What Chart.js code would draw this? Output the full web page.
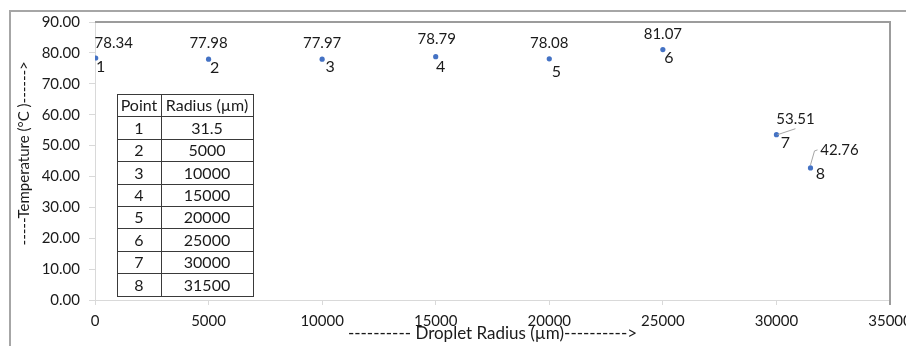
<!DOCTYPE html>
<html>
<head>
<meta charset="utf-8">
<script src="https://cdn.jsdelivr.net/npm/chart.js@4.4.0/dist/chart.umd.min.js"></script>
<style>
  html, body { margin: 0; padding: 0; background: #fff; }
</style>
</head>
<body>
<canvas id="chart" width="906" height="346"></canvas>
<script>
/* DATA */

const pointNumbers = ["1", "2", "3", "4", "5", "6", "7", "8"];
const radiusValues = [31.5, 5000, 10000, 15000, 20000, 25000, 30000, 31500];
const temperatureValues = [78.34, 77.98, 77.97, 78.79, 78.08, 81.07, 53.51, 42.76];

const X_MIN = 0, X_MAX = 35000, X_STEP = 5000;
const Y_MIN = 0, Y_MAX = 90, Y_STEP = 10;

const xTitle = "---------- Droplet Radius (µm)---------->";
const yTitle = "    -----Temperature (°C )------>";
const tableHeader = ["Point", "Radius (µm)"];

/* LABEL PLACEMENT (offsets from each dot, px) */

const valueOffsets = [[18, -15], [0, -16], [0, -16], [1, -17], [0, -16], [0, -15], [19, -16], [29, -18]];
const numberOffsets = [[5, 9], [6, 9], [8, 8], [5, 10], [7, 13], [6, 8], [9, 8], [10, 6]];
const leaderLines = { 6: [[1, 0], [19, -6]], 7: [[0, -3], [4, -17], [7, -18]] };

const FONT = "Lato, 'Open Sans', sans-serif";
const TEXT = "#1a1a1a";
const AXIS = "#d9d9d9";

/* PLUGINS */

const frame = {
  id: "frame",
  beforeDraw(chart) {
    const ctx = chart.ctx;
    ctx.save();
    ctx.fillStyle = "#fff";
    ctx.fillRect(0, 0, chart.width, chart.height);
    ctx.strokeStyle = "#a6a6a6";
    ctx.lineWidth = 2;
    ctx.beginPath();
    ctx.moveTo(10, chart.height);
    ctx.lineTo(10, 11);
    ctx.lineTo(chart.width, 11);
    ctx.stroke();
    ctx.restore();
  },
  afterDraw(chart) {
    const ctx = chart.ctx;
    const a = chart.chartArea;
    ctx.save();
    ctx.strokeStyle = "#9c9c9c";
    ctx.lineWidth = 2;
    ctx.beginPath();
    ctx.moveTo(a.left, a.top);
    ctx.lineTo(a.right, a.top);
    ctx.lineTo(a.right, a.bottom + 5);
    ctx.stroke();
    ctx.restore();
  }
};

const pointLabels = {
  id: "pointLabels",
  afterDatasetsDraw(chart) {
    const ctx = chart.ctx;
    const meta = chart.getDatasetMeta(0);
    ctx.save();
    ctx.font = "15px " + FONT;
    ctx.fillStyle = TEXT;
    ctx.textAlign = "center";
    ctx.textBaseline = "middle";
    meta.data.forEach((pt, i) => {
      const v = valueOffsets[i], n = numberOffsets[i];
      ctx.fillText(temperatureValues[i].toFixed(2), pt.x + v[0], pt.y + v[1]);
      ctx.font = "16px " + FONT;
      ctx.fillText(pointNumbers[i], pt.x + n[0], pt.y + n[1]);
      ctx.font = "15px " + FONT;
      const line = leaderLines[i];
      if (line) {
        ctx.strokeStyle = "#a6a6a6";
        ctx.lineWidth = 1;
        ctx.beginPath();
        line.forEach((p, k) => k ? ctx.lineTo(pt.x + p[0], pt.y + p[1]) : ctx.moveTo(pt.x + p[0], pt.y + p[1]));
        ctx.stroke();
      }
    });
    ctx.restore();
  }
};

const insetTable = {
  id: "insetTable",
  afterDraw(chart) {
    const ctx = chart.ctx;
    const left = 117, mid = 161, right = 253, top = 94, rowH = 22.4;
    const rows = pointNumbers.length + 1;
    ctx.save();
    ctx.strokeStyle = "#3a3a3a";
    ctx.lineWidth = 1;
    ctx.beginPath();
    for (let r = 0; r <= rows; r++) {
      const y = Math.round(top + r * rowH) + 0.5;
      ctx.moveTo(left, y);
      ctx.lineTo(right, y);
    }
    [left, mid, right].forEach(x => {
      ctx.moveTo(x + 0.5, top);
      ctx.lineTo(x + 0.5, Math.round(top + rows * rowH) + 1);
    });
    ctx.stroke();
    ctx.font = "16px " + FONT;
    ctx.fillStyle = TEXT;
    ctx.textAlign = "center";
    ctx.textBaseline = "middle";
    const c1 = (left + mid) / 2, c2 = (mid + right) / 2;
    ctx.fillText(tableHeader[0], c1, top + rowH / 2 + 1);
    ctx.fillText(tableHeader[1], c2, top + rowH / 2 + 1);
    pointNumbers.forEach((p, i) => {
      const y = top + (i + 1) * rowH + rowH / 2 + 1;
      ctx.fillText(p, c1, y);
      ctx.fillText(String(radiusValues[i]), c2, y);
    });
    ctx.restore();
  }
};

/* CHART */

new Chart(document.getElementById("chart"), {
  type: "scatter",
  data: {
    datasets: [{
      data: radiusValues.map((x, i) => ({ x, y: temperatureValues[i] })),
      backgroundColor: "#4472C4",
      borderWidth: 0,
      pointRadius: 2.6,
      pointHoverRadius: 2.6
    }]
  },
  options: {
    responsive: false,
    animation: false,
    layout: { padding: { left: 0, top: 22, right: 16, bottom: 0 } },
    plugins: { legend: { display: false }, tooltip: { enabled: false } },
    scales: {
      x: {
        type: "linear",
        min: X_MIN, max: X_MAX,
        ticks: {
          stepSize: X_STEP, padding: 7, color: TEXT, maxRotation: 0, autoSkip: false,
          font: { family: FONT, size: 15 },
          callback: v => String(v)
        },
        grid: { drawOnChartArea: false, drawTicks: true, tickLength: 5, color: AXIS },
        border: { color: AXIS, width: 1 },
        title: { display: true, text: xTitle, color: TEXT, font: { family: FONT, size: 17 }, padding: { top: 0, bottom: 2 } },
        afterFit: s => { s.height = 46; s.paddingLeft = 0; s.paddingRight = 0; }
      },
      y: {
        min: Y_MIN, max: Y_MAX,
        ticks: {
          stepSize: Y_STEP, padding: 9, color: TEXT,
          font: { family: FONT, size: 15 },
          callback: v => v.toFixed(2)
        },
        grid: { drawOnChartArea: false, drawTicks: true, tickLength: 6, color: AXIS },
        border: { color: AXIS, width: 1 },
        title: { display: true, text: yTitle, color: TEXT, font: { family: FONT, size: 15 }, padding: { top: 15, bottom: 0 } },
        afterFit: s => { s.width = 95; s.paddingTop = 0; s.paddingBottom = 0; }
      }
    }
  },
  plugins: [frame, pointLabels, insetTable]
});
</script>
</body>
</html>
